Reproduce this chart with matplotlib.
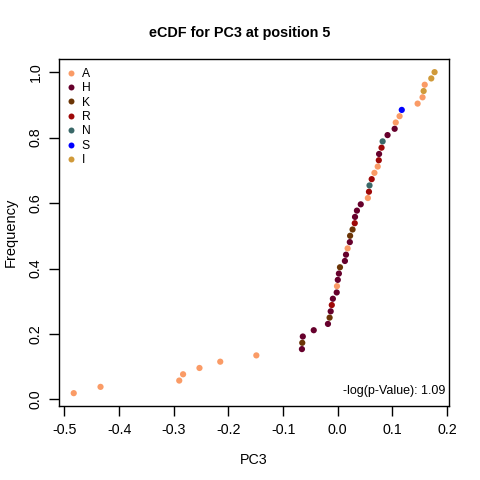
import numpy as np
import matplotlib
matplotlib.use("Agg")
import matplotlib.pyplot as plt
from matplotlib.lines import Line2D

# sorted PC3 values, with the residue of each point
pc3 = [-0.483, -0.434, -0.290, -0.283, -0.253, -0.215, -0.149,
       -0.0656, -0.065, -0.064, -0.044, -0.018, -0.015, -0.013, -0.011,
       -0.009, -0.002, -0.0015, 0.000, 0.002, 0.004, 0.013, 0.015, 0.018,
       0.022, 0.0225, 0.027, 0.031, 0.0315, 0.035, 0.042, 0.055, 0.057,
       0.058, 0.062, 0.067, 0.073, 0.075, 0.0755, 0.080, 0.082, 0.091,
       0.104, 0.106, 0.113, 0.117, 0.146, 0.155, 0.157, 0.159, 0.171, 0.177]
residue = ["A", "A", "A", "A", "A", "A", "A",
           "H", "K", "H", "H", "H", "K", "H", "R",
           "H", "H", "A", "H", "H", "K", "H", "H", "A",
           "H", "K", "K", "R", "H", "H", "H", "A", "R",
           "N", "R", "A", "A", "R", "H", "R", "N", "H",
           "H", "A", "A", "S", "A", "A", "I", "A", "I", "I"]

legend_labels = ["A", "H", "K", "R", "N", "S", "I"]
legend_colors = ["#FA9B66", "#66002C", "#6B3506", "#9E0808", "#3A6868", "#0000FF", "#D09A3A"]
pvalue_text = "-log(p-Value): 1.09"

col = dict(zip(legend_labels, legend_colors))
n = len(pc3)
freq = np.arange(1, n + 1) / n

plt.rcParams["font.family"] = ["Liberation Sans", "DejaVu Sans"]

fig = plt.figure(figsize=(4.8, 4.8), dpi=100)
ax = fig.add_axes([59.3 / 480, 74 / 480, (449 - 59.3) / 480, (406 - 59.3) / 480])

ax.scatter(pc3, freq, s=20, c=[col[r] for r in residue], linewidths=0, zorder=3)

# R style 4% padding
lo, hi = min(pc3), max(pc3)
pad = (hi - lo) * 0.04
ax.set_xlim(lo - pad, hi + pad)
pad = (1 - freq[0]) * 0.04
ax.set_ylim(freq[0] - pad, 1 + pad)

ax.set_xticks([-0.5, -0.4, -0.3, -0.2, -0.1, 0.0, 0.1, 0.2])
ax.set_xticklabels(["-0.5", "-0.4", "-0.3", "-0.2", "-0.1", "0.0", "0.1", "0.2"])
ax.set_yticks([0.0, 0.2, 0.4, 0.6, 0.8, 1.0])
ax.set_yticklabels(["0.0", "0.2", "0.4", "0.6", "0.8", "1.0"], rotation=90, va="center")
ax.tick_params(direction="out", length=7, width=1, labelsize=10.3, colors="black", pad=5)
for s in ax.spines.values():
    s.set_linewidth(1)

ax.set_xlabel("PC3", fontsize=10.3, labelpad=12)
ax.set_ylabel("Frequency", fontsize=10.5, labelpad=8)
fig.text(0.5, 1 - 33 / 480, "eCDF for PC3 at position 5", ha="center", va="center",
         fontsize=10.4, fontweight="bold")

ax.text(0.99, 0.025, pvalue_text, transform=ax.transAxes, ha="right", va="bottom", fontsize=9)

handles = [Line2D([], [], marker="o", linestyle="", markersize=4.3, markeredgewidth=0,
                  markerfacecolor=c) for c in legend_colors]
ax.legend(handles, legend_labels, loc="upper left", bbox_to_anchor=(0, 1), frameon=False,
          borderaxespad=0.4, borderpad=0.3, handlelength=0.6, handletextpad=0.55,
          labelspacing=0.2, fontsize=8.7)

fig.savefig("out.png", dpi=100)
